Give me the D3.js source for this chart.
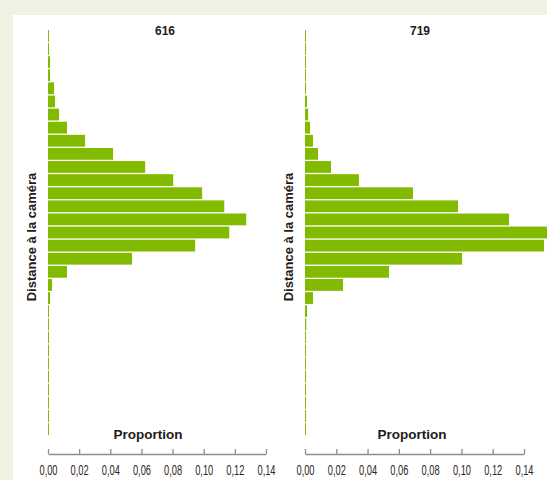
<!DOCTYPE html>
<html>
<head>
<meta charset="utf-8">
<script src="https://cdn.jsdelivr.net/npm/d3@7"></script>
<style>
  body { margin: 0; background: #f0f1e2; }
  svg { display: block; }
</style>
</head>
<body>
<svg id="chart" width="547" height="480"></svg>
<script>
// Distance bins (top = farthest row in the picture), 31 rows per panel
var distanceBins = ["b01","b02","b03","b04","b05","b06","b07","b08","b09","b10",
                    "b11","b12","b13","b14","b15","b16","b17","b18","b19","b20",
                    "b21","b22","b23","b24","b25","b26","b27","b28","b29","b30","b31"];

// Proportion per bin
var prop616 = [0.0006, 0.0006, 0.0013, 0.0013, 0.0039, 0.0045, 0.0071, 0.0122, 0.0238, 0.0418,
               0.0624, 0.0804, 0.0990, 0.1132, 0.1273, 0.1164, 0.0945, 0.0540, 0.0122, 0.0026,
               0.0013, 0.0006, 0.0006, 0.0006, 0.0006, 0.0006, 0.0006, 0.0006, 0.0006, 0.0006, 0.0006];
var prop719 = [0.0006, 0.0006, 0.0006, 0.0006, 0.0006, 0.0013, 0.0020, 0.0032, 0.0051, 0.0083,
               0.0166, 0.0345, 0.0690, 0.0978, 0.1304, 0.1580, 0.1528, 0.1004, 0.0537, 0.0243,
               0.0051, 0.0013, 0.0008, 0.0006, 0.0005, 0.0005, 0.0005, 0.0005, 0.0005, 0.0005, 0.0005];

var panelTitles = ["616", "719"];
var xTicks = [0, 0.02, 0.04, 0.06, 0.08, 0.10, 0.12, 0.14];
var yLabel = "Distance à la caméra";
var xLabel = "Proportion";

var barColor = "#82ba00";
var textColor = "#231b1b";
var axisColor = "#8e8e8e";

var svg = d3.select("#chart");

// backdrop: beige frame, white panel
svg.append("rect").attr("width", 547).attr("height", 480).attr("fill", "#f0f1e2");
svg.append("rect").attr("x", 13).attr("y", 15).attr("width", 534).attr("height", 465).attr("fill", "#fff");

var fmt = function(v) { return d3.format(".2f")(v).replace(".", ","); };

var yScale = d3.scaleBand()
    .domain(distanceBins)
    .range([30, 435])
    .paddingInner(0.1)
    .paddingOuter(0);

// one config per panel; x ranges measured from the axis ticks
var panels = [
    { title: panelTitles[0], values: prop616, x0: 48,  x1: 266, yLabX: 31,  titleX: 165, propX: 148 },
    { title: panelTitles[1], values: prop719, x0: 305, x1: 524, yLabX: 288, titleX: 420, propX: 412 }
];

panels.forEach(function(p) {
    var xScale = d3.scaleLinear().domain([0, 0.14]).range([p.x0, p.x1]);
    var g = svg.append("g").attr("class", "panel");

    // bars
    g.selectAll(".bar")
        .data(p.values)
        .enter()
        .append("rect")
        .attr("class", "bar")
        .attr("x", xScale(0))
        .attr("y", function(d, i) { return yScale(distanceBins[i]); })
        .attr("width", function(d) { return Math.max(1, xScale(d) - xScale(0)); })
        .attr("height", yScale.bandwidth())
        .attr("fill", barColor);

    // x axis, ticks pointing up
    var axis = d3.axisBottom(xScale)
        .tickValues(xTicks)
        .tickFormat(fmt)
        .tickSizeInner(-5)
        .tickSizeOuter(0);

    var ax = g.append("g")
        .attr("transform", "translate(0,454)")
        .call(axis);
    ax.select(".domain").attr("stroke", axisColor).attr("stroke-width", 1.3);
    ax.selectAll(".tick line").attr("stroke", axisColor).attr("stroke-width", 1.3);
    ax.selectAll(".tick text")
        .attr("y", 21.5)
        .attr("dy", 0)
        .attr("transform", "scale(0.6,1)")
        .attr("fill", "#2e2626")
        .style("font-family", "'Liberation Sans Narrow', 'Liberation Sans', sans-serif")
        .style("font-size", "15.5px");

    // x axis title
    g.append("text")
        .attr("x", p.propX)
        .attr("y", 439)
        .attr("text-anchor", "middle")
        .attr("fill", textColor)
        .style("font-family", "'Liberation Sans', Arial, sans-serif")
        .style("font-weight", "bold")
        .style("font-size", "13.5px")
        .text(xLabel);

    // panel title
    g.append("text")
        .attr("x", p.titleX)
        .attr("y", 35)
        .attr("text-anchor", "middle")
        .attr("fill", textColor)
        .style("font-family", "'Liberation Sans', Arial, sans-serif")
        .style("font-weight", "bold")
        .style("font-size", "12px")
        .text(p.title);

    // rotated y title
    g.append("text")
        .attr("transform", "translate(" + (p.yLabX + 4.5) + ",237) rotate(-90)")
        .attr("text-anchor", "middle")
        .attr("fill", textColor)
        .style("font-family", "'Liberation Sans', Arial, sans-serif")
        .style("font-weight", "bold")
        .style("font-size", "13px")
        .text(yLabel);
});
</script>
</body>
</html>
